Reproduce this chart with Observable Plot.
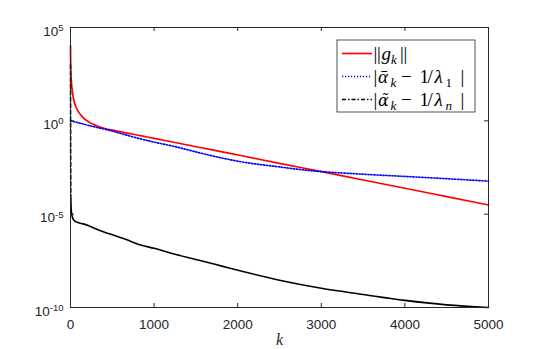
<!DOCTYPE html>
<html><head><meta charset="utf-8">
<script src="https://cdn.jsdelivr.net/npm/d3@7"></script>
<script src="https://cdn.jsdelivr.net/npm/@observablehq/plot@0.6"></script>
<style>
html,body{margin:0;padding:0;background:#fff;}
#chart{width:540px;height:349px;}
</style></head><body><div id="chart"></div>
<script>
// ---- data ----
const xTicks = [0, 1000, 2000, 3000, 4000, 5000];
const yTicks = [1e-10, 1e-5, 1e0, 1e5];

// ||g_k||
const gK = [0, 2, 5, 10, 20, 40, 70, 100, 150, 220, 300, 400, 520, 650, 850, 1000, 1250, 1550, 1800, 2050, 2500, 3000, 3500, 4000, 4500, 5000];
const gNorm = [1.07e4, 1.26e3, 3.55e2, 1.41e2, 44.7, 12.6, 5.01, 2.82, 1.48, 0.851, 0.575, 0.398, 0.309, 0.234, 0.158, 0.115, 6.92e-2, 3.72e-2, 2.24e-2, 1.35e-2, 5.25e-3, 1.91e-3, 6.76e-4, 2.45e-4, 8.71e-5, 3.09e-5];

// |alpha-bar_k - 1/lambda_1|
const barK = [0, 100, 220, 400, 520, 650, 850, 1000, 1250, 1550, 1800, 2050, 2300, 2500, 2750, 3000, 3500, 4000, 4500, 5000];
const barErr = [1, 0.776, 0.562, 0.363, 0.269, 0.182, 0.105, 7.24e-2, 4.17e-2, 1.91e-2, 1.05e-2, 6.31e-3, 4.37e-3, 3.39e-3, 2.45e-3, 1.91e-3, 1.38e-3, 1.05e-3, 7.94e-4, 5.89e-4];

// |alpha-tilde_k - 1/lambda_n|
const tilK = [0, 1, 2, 4, 8, 15, 30, 50, 90, 150, 220, 300, 400, 520, 650, 850, 1000, 1250, 1550, 1800, 2050, 2500, 3000, 3500, 4000, 4500, 5000];
const tilErr = [1e3, 3.16, 1e-2, 6.31e-5, 2.0e-5, 1e-5, 5.62e-6, 4.37e-6, 3.55e-6, 3.02e-6, 2.40e-6, 1.66e-6, 1.12e-6, 7.41e-7, 4.68e-7, 2.14e-7, 1.48e-7, 7.08e-8, 3.31e-8, 1.70e-8, 8.71e-9, 2.88e-9, 1.07e-9, 5.01e-10, 2.40e-10, 1.38e-10, 1e-10];

const seriesColors = ["#ff0000", "#0000ff", "#000000"];
const seriesDash = [null, "1.2,1.8", "4,2,1.5,2"];
// legend label pieces: t = text, i = italic, sub = subscript, at = offset from text start (px), f = font override
const legendLabels = [
  [{t: "|", at: 0}, {t: "|", at: 3.5}, {t: "g", i: true, at: 8}, {t: "k", i: true, sub: true, at: 17.5}, {t: "|", at: 26.5}, {t: "|", at: 30}],
  [{t: "|", at: 0}, {t: "\u1FB1", i: true, at: 4.5}, {t: "k", i: true, sub: true, at: 17}, {t: "\u2212", at: 27.5}, {t: "1", at: 46}, {t: "/", at: 54}, {t: "\u03BB", i: true, at: 61}, {t: "1", sub: true, at: 72}, {t: "|", at: 87}],
  [{t: "|", at: 0}, {t: "\u03B1\u0303", i: true, at: 4.5, f: "'DejaVu Serif', serif", fs: "16px"}, {t: "k", i: true, sub: true, at: 17}, {t: "\u2212", at: 27.5}, {t: "1", at: 46}, {t: "/", at: 54}, {t: "\u03BB", i: true, at: 61}, {t: "n", i: true, sub: true, at: 72}, {t: "|", at: 87}]
];

// ---- build ----
const rows = (ks, vs) => ks.map((k, i) => ({k, v: vs[i]}));
const red = rows(gK, gNorm);
const blue = rows(barK, barErr);
const black = rows(tilK, tilErr);

const W = 540, H = 349, mL = 70, mR = 52, mT = 27, mB = 42;
const innerW = W - mL - mR, innerH = H - mT - mB;
const tk = 4;
const axisColor = "#262626";

const svg = Plot.plot({
  width: W, height: H,
  marginLeft: mL, marginRight: mR, marginTop: mT, marginBottom: mB,
  style: {fontFamily: "'Liberation Sans', Arial, sans-serif", fontSize: "13.5px", color: axisColor, background: "#fff"},
  x: {domain: [0, 5000]},
  y: {type: "log", domain: [1e-10, 1e5]},
  marks: [
    Plot.axisX({ticks: xTicks, tickSize: 0, tickPadding: 12, tickFormat: d => String(d), label: "k", labelAnchor: "center", labelArrow: "none", labelOffset: 37}),
    Plot.axisY({ticks: yTicks, tickSize: 0, tickPadding: 7, tickFormat: d => String(Math.round(Math.log10(d))), label: null, dy: 4}),
    Plot.tickX(xTicks, {x: d => d, insetTop: innerH - tk, stroke: axisColor}),
    Plot.tickX(xTicks, {x: d => d, insetBottom: innerH - tk, stroke: axisColor}),
    Plot.tickY(yTicks, {y: d => d, insetRight: innerW - tk, stroke: axisColor}),
    Plot.tickY(yTicks, {y: d => d, insetLeft: innerW - tk, stroke: axisColor}),
    Plot.line(red, {x: "k", y: "v", stroke: seriesColors[0], strokeWidth: 1.7, curve: "monotone-x"}),
    Plot.line(blue, {x: "k", y: "v", stroke: seriesColors[1], strokeWidth: 1.7, strokeDasharray: seriesDash[1], curve: "catmull-rom"}),
    Plot.line(black.filter(d => d.k <= 4), {x: "k", y: "v", stroke: seriesColors[2], strokeWidth: 1.6, strokeDasharray: "4,2.5"}),
    Plot.line(black.filter(d => d.k >= 4), {x: "k", y: "v", stroke: seriesColors[2], strokeWidth: 1.6, curve: "monotone-x"}),
    Plot.frame({stroke: axisColor, strokeWidth: 1})
  ]
});
document.getElementById("chart").appendChild(svg);

const s = d3.select(svg);
// superscript exponents on y tick labels
s.selectAll('g[aria-label="y-axis tick label"] text').each(function () {
  const e = this.textContent;
  this.textContent = "";
  const t = d3.select(this);
  t.append("tspan").text("10");
  t.append("tspan").attr("dy", "-0.5em").style("font-size", "9.5px").text(e);
});
// italic k label
s.select('g[aria-label="x-axis label"] text')
  .style("font-family", "'Liberation Serif', serif")
  .style("font-style", "italic")
  .style("font-size", "16px");

// legend box
const lg = s.append("g").attr("aria-label", "legend").attr("text-anchor", "start");
const bx = 337, by = 40, bw = 138, bh = 72;
lg.append("rect").attr("x", bx).attr("y", by).attr("width", bw).attr("height", bh)
  .attr("fill", "#fff").attr("stroke", axisColor).attr("stroke-width", 0.8);
const rowY = [53.5, 76.5, 99.5];
const tx0 = bx + 36.5;
legendLabels.forEach((parts, j) => {
  const y = rowY[j];
  lg.append("line").attr("x1", bx + 5).attr("x2", bx + 35).attr("y1", y).attr("y2", y)
    .attr("stroke", seriesColors[j]).attr("stroke-width", 1.7)
    .attr("stroke-dasharray", seriesDash[j]);
  const base = y + 6;
  const txt = lg.append("text").attr("x", tx0).attr("y", base)
    .attr("text-anchor", "start")
    .style("font-family", "'Liberation Serif', serif")
    .style("font-size", "19px").attr("fill", "#000");
  parts.forEach(p => {
    const ts = txt.append("tspan").text(p.t)
      .attr("x", tx0 + p.at).attr("y", p.sub ? base + 4 : base);
    if (p.i) ts.style("font-style", "italic");
    if (p.sub) ts.style("font-size", "13px");
    if (p.f) ts.style("font-family", p.f);
    if (p.fs) ts.style("font-size", p.fs);
  });
});
</script></body></html>
